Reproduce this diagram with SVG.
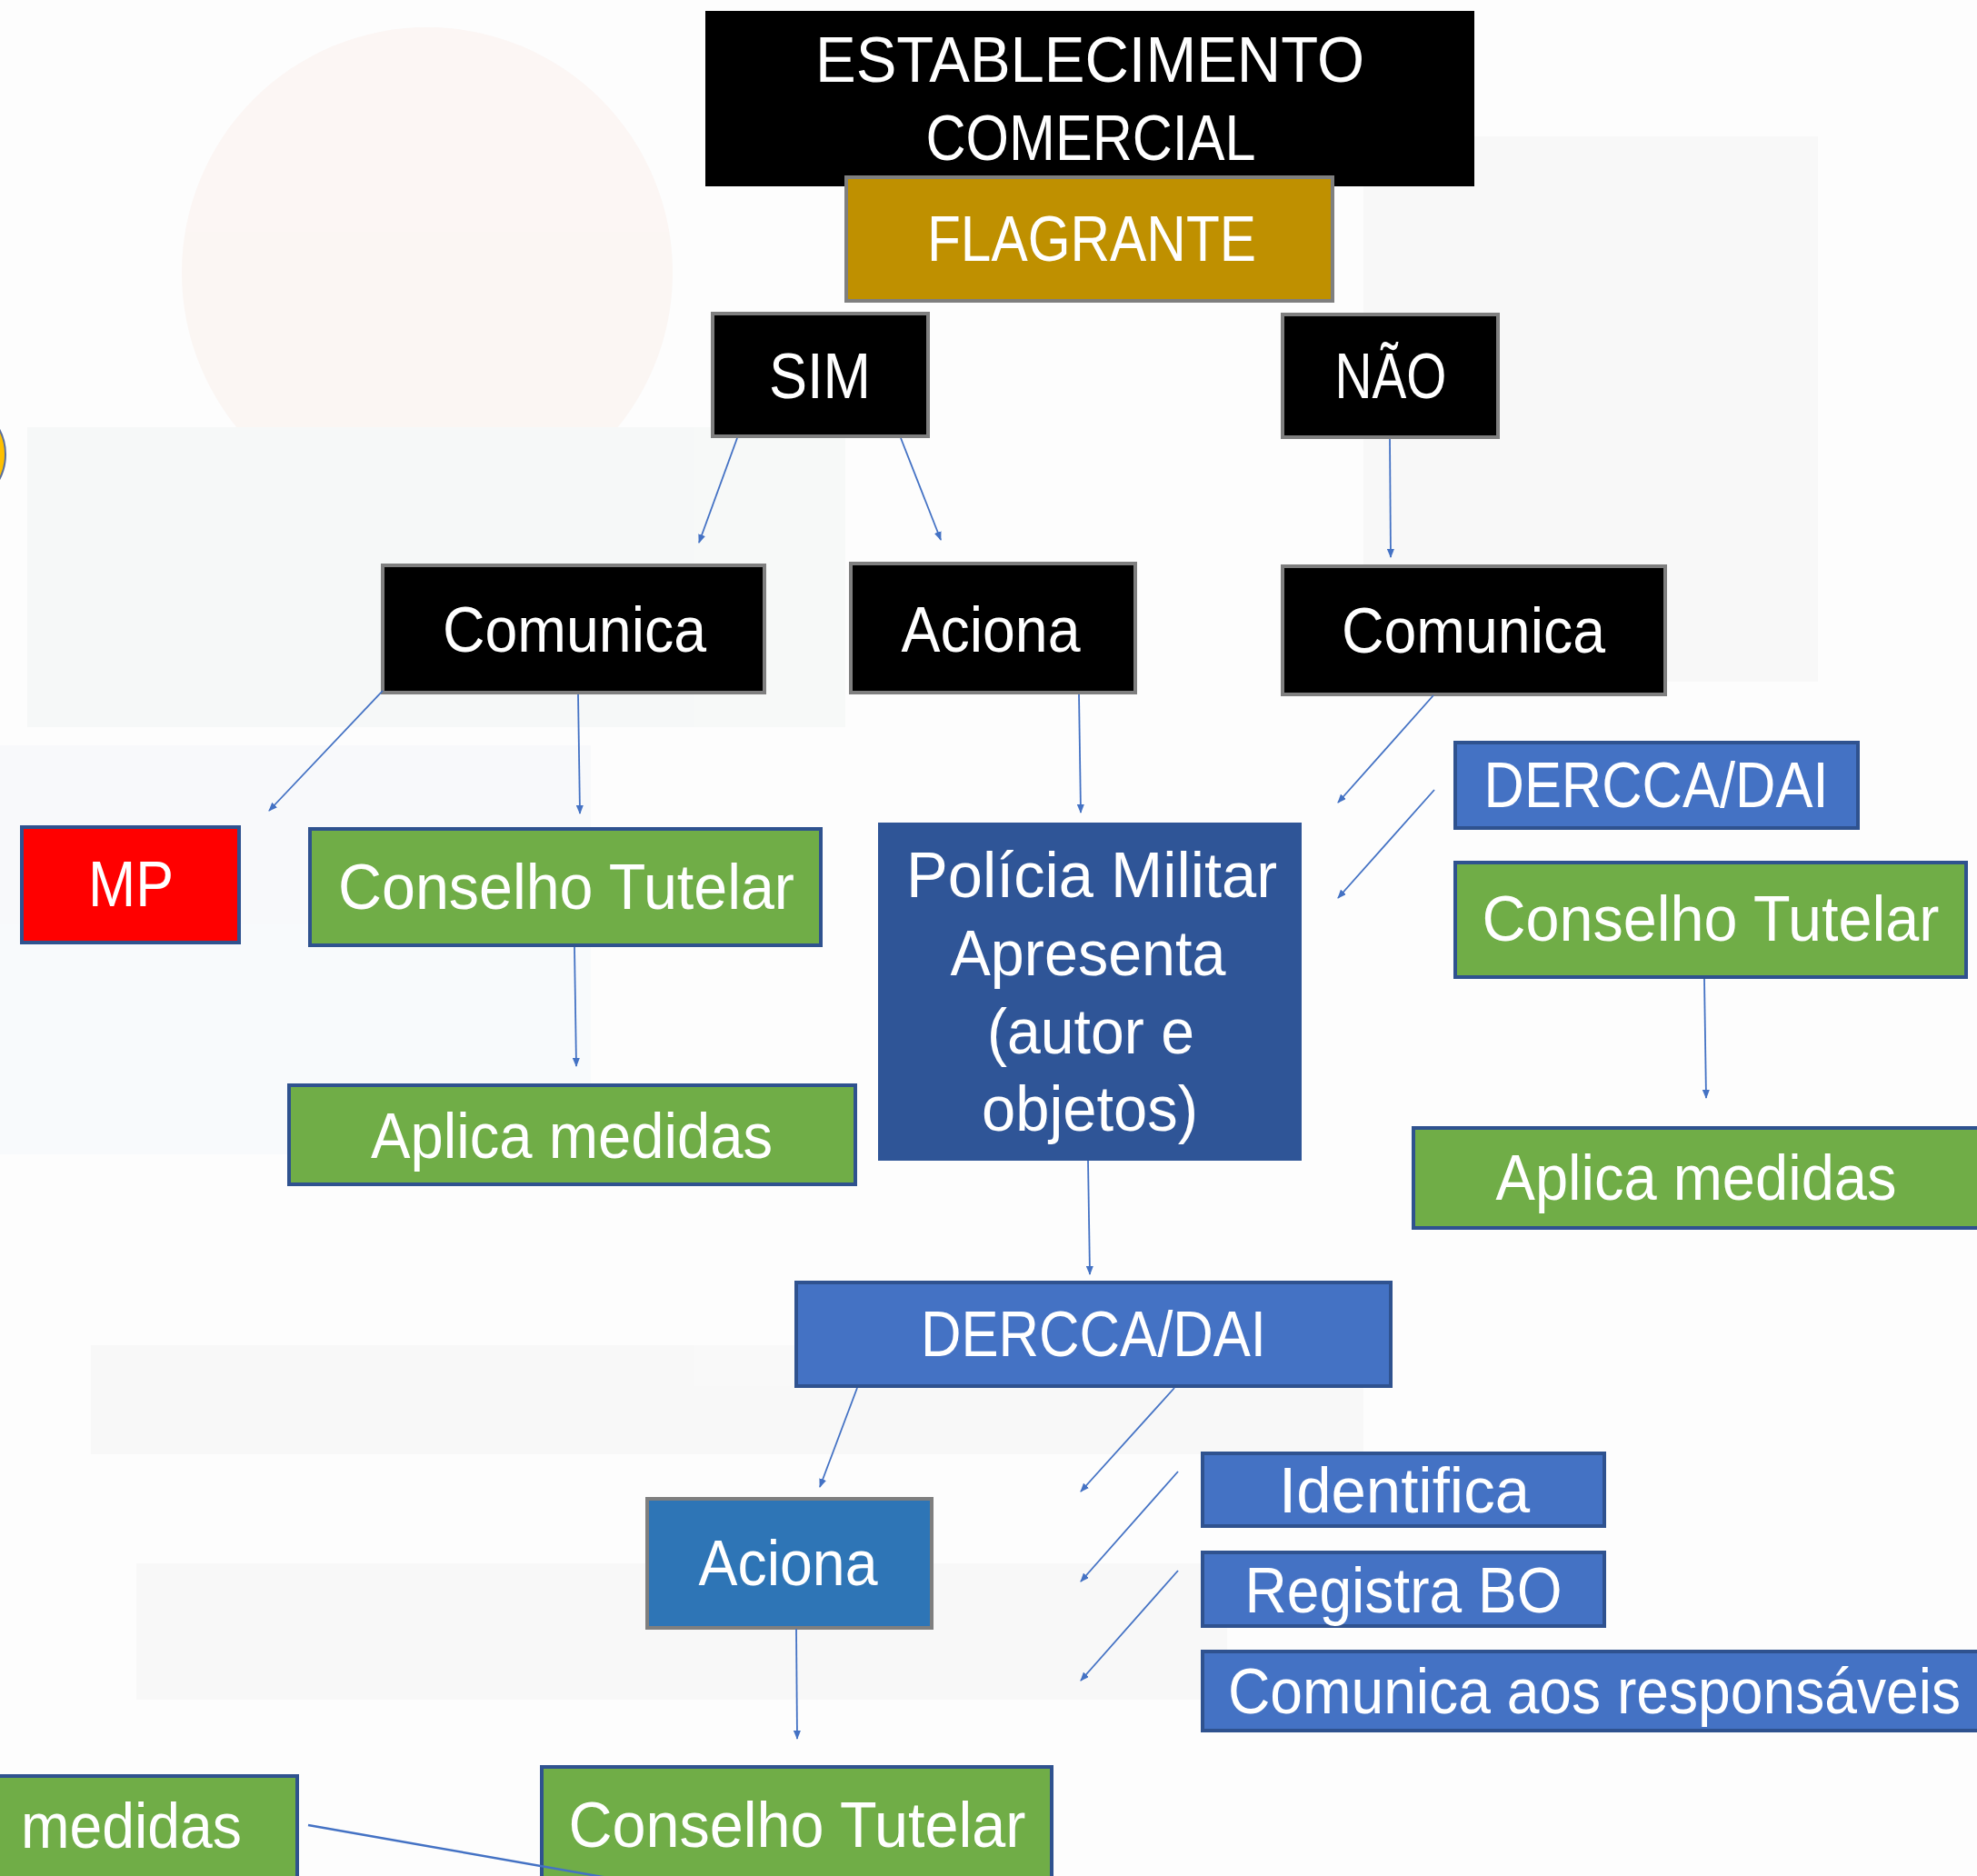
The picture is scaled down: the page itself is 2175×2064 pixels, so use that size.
<svg xmlns="http://www.w3.org/2000/svg" width="2175" height="2064" viewBox="0 0 2175 2064">
<defs>
<marker id="ah" markerUnits="userSpaceOnUse" markerWidth="10" markerHeight="8" refX="9" refY="4" orient="auto">
<path d="M0,0 L10,4 L0,8 Z" fill="#4472c4"/>
</marker>
<style>
.t{font-family:"Liberation Sans",Arial,sans-serif;font-size:70px;fill:#fff;text-anchor:middle}
.ts{font-family:"Liberation Sans",Arial,sans-serif;font-size:70px;fill:#fff}
.blk{fill:#000;stroke:#7f7f7f;stroke-width:4}
.grn{fill:#70ad47;stroke:#2f528f;stroke-width:4}
.blu{fill:#4472c4;stroke:#2f528f;stroke-width:4}
.c{stroke:#4472c4;stroke-width:1.8;fill:none;marker-end:url(#ah)}
</style>
</defs>
<rect x="0" y="0" width="2175" height="2064" fill="#fdfdfd"/>
<g id="background" opacity="0.4">
<circle cx="470" cy="300" r="270" fill="#f9ece6"/>
<rect x="30" y="470" width="900" height="330" fill="#eef3f1"/>
<rect x="0" y="820" width="650" height="450" fill="#f1f5fa"/>
<rect x="1500" y="150" width="500" height="600" fill="#f0f0f0"/>
<rect x="100" y="1480" width="1400" height="120" fill="#f3f3f3"/>
<rect x="150" y="1720" width="1200" height="150" fill="#f1f1f1"/>
</g>
<circle cx="-52" cy="500" r="58" fill="#ffc000" stroke="#5b6f9a" stroke-width="2"/>

<g id="n-estabelecimento">
<rect x="776" y="12" width="846" height="193" fill="#000"/>
<text class="t" x="1199" y="90" textLength="604" lengthAdjust="spacingAndGlyphs">ESTABLECIMENTO</text>
<text class="t" x="1200" y="176" textLength="363" lengthAdjust="spacingAndGlyphs">COMERCIAL</text>
</g>
<g id="n-flagrante">
<rect x="931" y="195" width="535" height="136" fill="#bf9000" stroke="#7f7f7f" stroke-width="4"/>
<text class="t" x="1201" y="287" textLength="362" lengthAdjust="spacingAndGlyphs">FLAGRANTE</text>
</g>
<g id="n-sim">
<rect class="blk" x="784" y="345" width="237" height="135"/>
<text class="t" x="902" y="438" textLength="112" lengthAdjust="spacingAndGlyphs">SIM</text>
</g>
<g id="n-nao">
<rect class="blk" x="1411" y="346" width="237" height="135"/>
<text class="t" x="1530" y="438" textLength="123" lengthAdjust="spacingAndGlyphs">NÃO</text>
</g>
<g id="n-comunica-sim">
<rect class="blk" x="421" y="622" width="420" height="140"/>
<text class="t" x="632" y="717" textLength="290" lengthAdjust="spacingAndGlyphs">Comunica</text>
</g>
<g id="n-aciona-sim">
<rect class="blk" x="936" y="620" width="313" height="142"/>
<text class="t" x="1090" y="717" textLength="197" lengthAdjust="spacingAndGlyphs">Aciona</text>
</g>
<g id="n-comunica-nao">
<rect class="blk" x="1411" y="623" width="421" height="141"/>
<text class="t" x="1621" y="718" textLength="290" lengthAdjust="spacingAndGlyphs">Comunica</text>
</g>
<g id="n-mp">
<rect x="24" y="910" width="239" height="127" fill="#ff0000" stroke="#2f528f" stroke-width="4"/>
<text class="t" x="144" y="997" textLength="94" lengthAdjust="spacingAndGlyphs">MP</text>
</g>
<g id="n-conselho-sim">
<rect class="grn" x="341" y="912" width="562" height="128"/>
<text class="t" x="623" y="1000" textLength="502" lengthAdjust="spacingAndGlyphs">Conselho Tutelar</text>
</g>
<g id="n-aplica-sim">
<rect class="grn" x="318" y="1194" width="623" height="109"/>
<text class="t" x="629" y="1274" textLength="442" lengthAdjust="spacingAndGlyphs">Aplica medidas</text>
</g>
<g id="n-policia">
<rect x="966" y="905" width="466" height="372" fill="#2f5597"/>
<text class="t" x="1201" y="987" textLength="408" lengthAdjust="spacingAndGlyphs">Polícia Militar</text>
<text class="t" x="1197" y="1073" textLength="303" lengthAdjust="spacingAndGlyphs">Apresenta</text>
<text class="t" x="1200" y="1159" textLength="228" lengthAdjust="spacingAndGlyphs">(autor e</text>
<text class="t" x="1199" y="1244" textLength="238" lengthAdjust="spacingAndGlyphs">objetos)</text>
</g>
<g id="n-dercca-nao">
<rect class="blu" x="1601" y="817" width="443" height="94"/>
<text class="t" x="1822" y="888" textLength="379" lengthAdjust="spacingAndGlyphs">DERCCA/DAI</text>
</g>
<g id="n-conselho-nao">
<rect class="grn" x="1601" y="949" width="562" height="126"/>
<text class="t" x="1882" y="1035" textLength="503" lengthAdjust="spacingAndGlyphs">Conselho Tutelar</text>
</g>
<g id="n-aplica-nao">
<rect class="grn" x="1555" y="1241" width="640" height="110"/>
<text class="t" x="1866" y="1320" textLength="441" lengthAdjust="spacingAndGlyphs">Aplica medidas</text>
</g>
<g id="n-dercca">
<rect class="blu" x="876" y="1411" width="654" height="114"/>
<text class="t" x="1203" y="1492" textLength="380" lengthAdjust="spacingAndGlyphs">DERCCA/DAI</text>
</g>
<g id="n-identifica">
<rect class="blu" x="1323" y="1599" width="442" height="80"/>
<text class="t" x="1545" y="1664" textLength="276" lengthAdjust="spacingAndGlyphs">Identifica</text>
</g>
<g id="n-registra">
<rect class="blu" x="1323" y="1708" width="442" height="81"/>
<text class="t" x="1544" y="1774" textLength="349" lengthAdjust="spacingAndGlyphs">Registra BO</text>
</g>
<g id="n-comunica-resp">
<rect class="blu" x="1323" y="1817" width="870" height="87"/>
<text class="ts" x="1351" y="1885" textLength="806" lengthAdjust="spacingAndGlyphs">Comunica aos responsáveis</text>
</g>
<g id="n-aciona-dercca">
<rect x="712" y="1649" width="313" height="142" fill="#2e75b6" stroke="#7f7f7f" stroke-width="4"/>
<text class="t" x="867" y="1744" textLength="197" lengthAdjust="spacingAndGlyphs">Aciona</text>
</g>
<g id="n-medidas">
<rect class="grn" x="-10" y="1954" width="337" height="130"/>
<text class="ts" x="23" y="2033" textLength="243" lengthAdjust="spacingAndGlyphs">medidas</text>
</g>
<g id="n-conselho-bottom">
<rect class="grn" x="596" y="1944" width="561" height="140"/>
<text class="t" x="877" y="2032" textLength="503" lengthAdjust="spacingAndGlyphs">Conselho Tutelar</text>
</g>

<g id="connectors">
<line class="c" x1="811" y1="482" x2="769" y2="597"/>
<line class="c" x1="991" y1="482" x2="1035" y2="594"/>
<line class="c" x1="1529" y1="483" x2="1530" y2="613"/>
<line class="c" x1="421" y1="760" x2="296" y2="892"/>
<line class="c" x1="636" y1="764" x2="638" y2="895"/>
<line class="c" x1="632" y1="1042" x2="634" y2="1173"/>
<line class="c" x1="1187" y1="764" x2="1189" y2="894"/>
<line class="c" x1="1577" y1="765" x2="1472" y2="883"/>
<line class="c" x1="1578" y1="869" x2="1472" y2="988"/>
<line class="c" x1="1875" y1="1077" x2="1877" y2="1208"/>
<line class="c" x1="1197" y1="1277" x2="1199" y2="1402"/>
<line class="c" x1="943" y1="1527" x2="902" y2="1636"/>
<line class="c" x1="1292" y1="1527" x2="1189" y2="1641"/>
<line class="c" x1="1296" y1="1619" x2="1189" y2="1740"/>
<line class="c" x1="1296" y1="1728" x2="1189" y2="1849"/>
<line class="c" x1="876" y1="1792" x2="877" y2="1913"/>
<line x1="339" y1="2008" x2="680" y2="2068" stroke="#4472c4" stroke-width="2.5"/>
</g>
</svg>
